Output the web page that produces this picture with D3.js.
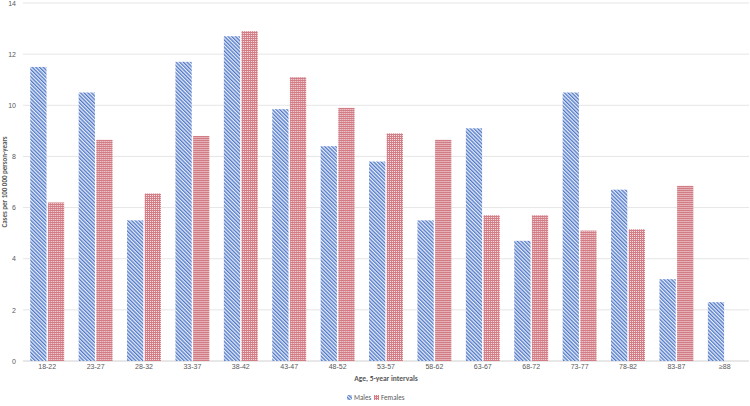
<!DOCTYPE html>
<html>
<head>
<meta charset="utf-8">
<script src="https://cdn.jsdelivr.net/npm/d3@7"></script>
<style>
  body { margin: 0; background: #fff; }
  svg { display: block; font-family: Calibri, Carlito, "Liberation Sans", Arial, sans-serif; }
</style>
</head>
<body>
<div class="barGraph"></div>
<script>
// age groups and rates per 100 000 person-years
var ageGroups = ["18-22","23-27","28-32","33-37","38-42","43-47","48-52","53-57","58-62","63-67","68-72","73-77","78-82","83-87","≥88"];
var males   = [11.5, 10.5, 5.5, 11.7, 12.7, 9.85, 8.4, 7.8, 5.5, 9.1, 4.7, 10.5, 6.7, 3.2, 2.3];
var females = [6.2, 8.65, 6.55, 8.8, 12.9, 11.1, 9.9, 8.9, 8.65, 5.7, 5.7, 5.1, 5.15, 6.85, null];
var seriesNames = ["Males", "Females"];
var yTicks = [0, 2, 4, 6, 8, 10, 12, 14];

function init(){
    var w = 750;
    var h = 406;
    var left = 23, right = 749, top = 3, bottom = 361;

    var svg = d3.select(".barGraph")
                .append("svg")
                .attr("width", w)
                .attr("height", h);

    // fill patterns
    var defs = svg.append("defs");
    var stripes = defs.append("pattern")
        .attr("id", "maleFill")
        .attr("patternUnits", "userSpaceOnUse")
        .attr("width", 2.6).attr("height", 2.6)
        .attr("patternTransform", "rotate(-45)");
    stripes.append("rect").attr("width", 2.6).attr("height", 2.6).attr("fill", "#e6ecf8");
    stripes.append("rect").attr("width", 1.3).attr("height", 2.6).attr("fill", "#5078c8");

    var dots = defs.append("pattern")
        .attr("id", "femaleFill")
        .attr("patternUnits", "userSpaceOnUse")
        .attr("width", 2).attr("height", 2);
    dots.append("rect").attr("width", 2).attr("height", 2).attr("fill", "#d27c85");
    dots.append("rect").attr("x", 1).attr("y", 1).attr("width", 1).attr("height", 1).attr("fill", "#f6e4e6");

    var x0 = d3.scaleBand()
        .domain(ageGroups)
        .range([left, right])
        .paddingInner(0.3)
        .paddingOuter(0.15);

    var x1 = d3.scaleBand()
        .domain(seriesNames)
        .range([0, x0.bandwidth()])
        .paddingInner(0.08);

    var y = d3.scaleLinear()
        .domain([0, 14])
        .range([bottom, top]);

    // gridlines
    svg.append("g")
        .selectAll("line")
        .data(yTicks)
        .enter()
        .append("line")
        .attr("x1", left)
        .attr("x2", right)
        .attr("y1", function(d){ return y(d); })
        .attr("y2", function(d){ return y(d); })
        .attr("stroke", function(d){ return d === 0 ? "#d0d0d0" : "#e6e6e6"; })
        .attr("stroke-width", 1);

    // y axis labels
    var yAxis = d3.axisLeft(y).tickValues(yTicks).tickSize(0).tickPadding(0);
    var gy = svg.append("g")
        .attr("transform", "translate(16,0)")
        .call(yAxis);
    gy.select(".domain").remove();
    gy.selectAll("text")
        .attr("fill", "#595959")
        .style("font-size", "7px");

    // x axis labels
    var xAxis = d3.axisBottom(x0).tickSize(0).tickPadding(0);
    var gx = svg.append("g")
        .attr("transform", "translate(0," + (bottom + 3) + ")")
        .call(xAxis);
    gx.select(".domain").remove();
    gx.selectAll("text")
        .attr("fill", "#595959")
        .style("font-size", "7px");

    // bars
    var rows = ageGroups.map(function(g, i){
        return { group: g, values: [
            { key: "Males", value: males[i] },
            { key: "Females", value: females[i] }
        ]};
    });

    svg.append("g")
        .selectAll("g")
        .data(rows)
        .enter()
        .append("g")
        .attr("transform", function(d){ return "translate(" + x0(d.group) + ",0)"; })
        .selectAll("rect")
        .data(function(d){ return d.values.filter(function(v){ return v.value != null; }); })
        .enter()
        .append("rect")
        .attr("x", function(d){ return x1(d.key); })
        .attr("y", function(d){ return y(d.value); })
        .attr("width", x1.bandwidth())
        .attr("height", function(d){ return bottom - y(d.value); })
        .attr("fill", function(d){ return d.key === "Males" ? "url(#maleFill)" : "url(#femaleFill)"; });

    // axis titles
    svg.append("text")
        .attr("x", (left + right) / 2)
        .attr("y", 381)
        .attr("text-anchor", "middle")
        .attr("fill", "#595959")
        .style("font-size", "7.5px")
        .style("font-weight", "bold")
        .text("Age, 5-year intervals");

    svg.append("text")
        .attr("transform", "translate(7," + ((top + bottom) / 2) + ") rotate(-90)")
        .attr("text-anchor", "middle")
        .attr("fill", "#595959")
        .style("font-size", "7px")
        .style("font-weight", "bold")
        .text("Cases per 100 000 person-years");

    // legend
    var legend = svg.append("g").attr("transform", "translate(347,398)");
    var items = legend.selectAll("g")
        .data(seriesNames)
        .enter()
        .append("g")
        .attr("transform", function(d, i){ return "translate(" + (i * 27) + ",0)"; });
    items.append("rect")
        .attr("x", 0).attr("y", -3)
        .attr("width", 5).attr("height", 5)
        .attr("fill", function(d){ return d === "Males" ? "url(#maleFill)" : "url(#femaleFill)"; });
    items.append("text")
        .attr("x", 7)
        .attr("y", 1.5)
        .attr("fill", "#595959")
        .style("font-size", "7px")
        .text(function(d){ return d; });
}
window.onload = init;
</script>
</body>
</html>
